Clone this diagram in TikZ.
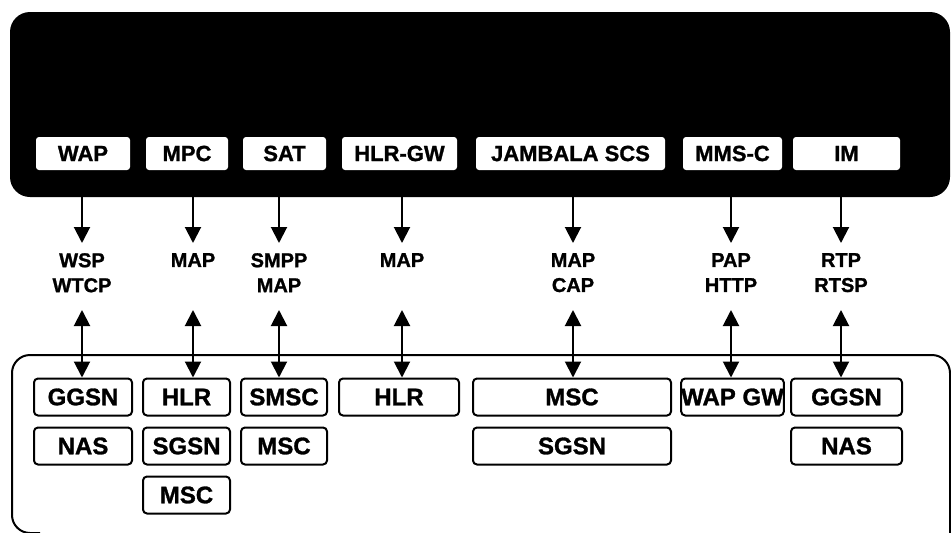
\documentclass[tikz,border=0pt]{standalone}
\usepackage{fontspec}
\setmainfont{Liberation Sans}[BoldFeatures={FakeBold=1.2}]
\usetikzlibrary{arrows.meta}
\begin{document}
\begin{tikzpicture}[x=1pt,y=-1pt,
  sysbox/.style={fill=white, rounded corners=3pt, inner sep=0pt, minimum height=33pt,
    font=\fontsize{22}{26}\selectfont\bfseries},
  netbox/.style={draw=black, line width=2pt, rounded corners=4pt, inner sep=0pt, minimum height=37pt,
    font=\fontsize{24}{28}\selectfont\bfseries},
  proto/.style={align=center, inner sep=0pt, anchor=north,
    font=\fontsize{20}{25}\selectfont\bfseries},
  tip/.tip={Triangle[width=16pt,length=16pt]},
  link/.style={line width=2pt, -tip},
  duplex/.style={line width=2pt, tip-tip},
]
\useasboundingbox (0,0) rectangle (951,533);

% service platform (black panel)
\node[fill=black, rounded corners=20pt, minimum width=940pt, minimum height=185pt, inner sep=0pt]
  (sys) at (480,104.5) {};

% services on the platform
\node[sysbox, minimum width=94pt]  (wap)  at (83,153.5)    {WAP};
\node[sysbox, minimum width=82pt]  (mpc)  at (187,153.5)   {MPC};
\node[sysbox, minimum width=83pt]  (sat)  at (284.5,153.5) {SAT};
\node[sysbox, minimum width=115pt] (hgw)  at (399.5,153.5) {HLR-GW};
\node[sysbox, minimum width=189pt] (jam)  at (570.5,153.5) {JAMBALA SCS};
\node[sysbox, minimum width=99pt]  (mms)  at (732.5,153.5) {MMS-C};
\node[sysbox, minimum width=107pt] (im)   at (846.5,153.5) {IM};

% network area outline
\draw[line width=2pt, rounded corners=18pt]
  (40,533) -- (12,533) -- (12,355) -- (950,355) -- (950,533);

% protocol labels
\node[proto] (p1) at (82,253)  {WSP\\WTCP};
\node[proto] (p2) at (193,253) {MAP};
\node[proto] (p3) at (279,253) {SMPP\\MAP};
\node[proto] (p4) at (402,253) {MAP};
\node[proto] (p5) at (573,253) {MAP\\CAP};
\node[proto] (p6) at (731,253) {PAP\\HTTP};
\node[proto] (p7) at (841,253) {RTP\\RTSP};
\coordinate (dtop) at (0,310);

% network elements
\node[netbox, minimum width=98pt]  (g1)  at (83,397)    {GGSN};
\node[netbox, minimum width=98pt]  (n1)  at (83,446)    {NAS};
\node[netbox, minimum width=87pt]  (h2)  at (186.5,397) {HLR};
\node[netbox, minimum width=87pt]  (s2)  at (186.5,446) {SGSN};
\node[netbox, minimum width=87pt]  (m2)  at (186.5,495) {MSC};
\node[netbox, minimum width=86pt]  (sm3) at (284,397)   {SMSC};
\node[netbox, minimum width=86pt]  (m3)  at (284,446)   {MSC};
\node[netbox, minimum width=120pt] (h4)  at (399,397)   {HLR};
\node[netbox, minimum width=198pt] (m5)  at (572,397)   {MSC};
\node[netbox, minimum width=198pt] (s5)  at (572,446)   {SGSN};
\node[netbox, minimum width=101pt] (w6)  at (732.5,397) {WAP GW};
\node[netbox, minimum width=111pt] (g7)  at (846.5,397) {GGSN};
\node[netbox, minimum width=111pt] (n7)  at (846.5,446) {NAS};

% platform to protocol
\foreach \p in {p1,p2,p3,p4,p5,p6,p7}
  \draw[link] (\p |- sys.south) -- ([yshift=10pt]\p.north);

% protocol to network element
\draw[duplex] (p1 |- dtop) -- (p1 |- g1.north);
\draw[duplex] (p2 |- dtop) -- (p2 |- h2.north);
\draw[duplex] (p3 |- dtop) -- (p3 |- sm3.north);
\draw[duplex] (p4 |- dtop) -- (p4 |- h4.north);
\draw[duplex] (p5 |- dtop) -- (p5 |- m5.north);
\draw[duplex] (p6 |- dtop) -- (p6 |- w6.north);
\draw[duplex] (p7 |- dtop) -- (p7 |- g7.north);
\end{tikzpicture}
\end{document}
